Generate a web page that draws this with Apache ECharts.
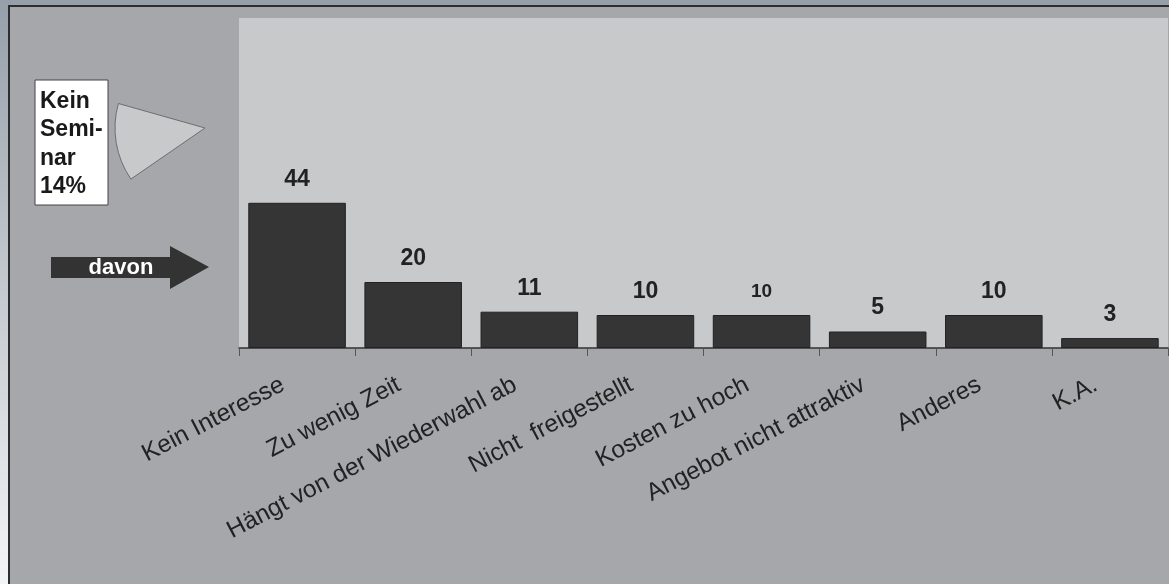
<!DOCTYPE html>
<html>
<head>
<meta charset="utf-8">
<script src="https://cdn.jsdelivr.net/npm/echarts@6/dist/echarts.min.js"></script>
<style>
html,body{margin:0;padding:0;}
#chart{width:1169px;height:584px;}
</style>
</head>
<body>
<div id="chart"></div>
<script>
const categories = ['Kein Interesse', 'Zu wenig Zeit', 'Hängt von der Wiederwahl ab', 'Nicht  freigestellt', 'Kosten zu hoch', 'Angebot nicht attraktiv', 'Anderes', 'K.A.'];
const counts = [44, 20, 11, 10, 10, 5, 10, 3];
const smallLabelIndex = 4;
const pieShares = [14, 86];
const pieNames = ['Kein Seminar', 'Seminar'];
const pieBoxText = 'Kein\nSemi-\nnar\n14%';
const arrowText = 'davon';

const FONT = '"Liberation Sans", Arial, sans-serif';
const chart = echarts.init(document.getElementById('chart'), null, {renderer: 'canvas'});

const barData = counts.map((v, i) => i === smallLabelIndex
  ? {value: v, label: {fontSize: 19, distance: 14}}
  : v);

chart.setOption({
  animation: false,
  backgroundColor: {
    type: 'linear', x: 0, y: 0, x2: 0, y2: 1,
    colorStops: [{offset: 0, color: '#96a0aa'}, {offset: 1, color: '#f3f4f6'}]
  },
  graphic: [
    {type: 'rect', z: -10, shape: {x: 9, y: 6, width: 1170, height: 590},
     style: {fill: '#a6a7ab', stroke: '#2e2e2e', lineWidth: 2}},
    {type: 'rect', z: 10, shape: {x: 35, y: 80, width: 73, height: 125},
     style: {fill: '#ffffff', stroke: '#444', lineWidth: 1}},
    {type: 'text', z: 11, left: 40, top: 87,
     style: {text: pieBoxText, font: 'bold 23px ' + FONT, fill: '#1a1a1a', lineHeight: 28.5}},
    {type: 'polygon', z: 10,
     shape: {points: [[51, 257], [170, 257], [170, 246], [209, 267], [170, 289], [170, 278], [51, 278]]},
     style: {fill: '#333333'}},
    {type: 'text', z: 11, x: 121, y: 268,
     style: {text: arrowText, font: 'bold 22px ' + FONT, fill: '#ffffff', align: 'center', verticalAlign: 'middle'}}
  ],
  grid: {left: 239, right: 1, top: 18, bottom: 236, show: true, backgroundColor: '#c8c9cb',
         borderWidth: 0, outerBoundsMode: 'none', containLabel: false},
  xAxis: {
    type: 'category', data: categories,
    axisLine: {show: true, lineStyle: {color: '#333', width: 1.5}},
    axisTick: {show: true, length: 8, lineStyle: {color: '#555'}},
    axisLabel: {rotate: 27.5, interval: 0, margin: 28, padding: [0, 16, 0, 0],
                fontFamily: FONT, fontSize: 24.5, color: '#222'},
    splitLine: {show: false}
  },
  yAxis: {type: 'value', min: 0, max: 100, show: false, splitLine: {show: false}},
  series: [
    {
      type: 'bar', data: barData, barCategoryGap: '16%',
      itemStyle: {color: '#353535', borderColor: '#222', borderWidth: 1},
      label: {show: true, position: 'top', distance: 12, fontFamily: FONT,
              fontWeight: 'bold', fontSize: 23, color: '#222'},
      emphasis: {disabled: true}, silent: true
    },
    {
      type: 'pie', center: [205, 128], radius: 90, startAngle: 214.6, clockwise: true,
      silent: true, label: {show: false}, labelLine: {show: false}, emphasis: {disabled: true},
      data: pieShares.map((v, i) => ({
        name: pieNames[i], value: v,
        itemStyle: i === 0 ? {color: '#c8c9cb', borderColor: '#6e6e6e', borderWidth: 1}
                            : {color: 'transparent', borderWidth: 0}
      }))
    }
  ]
});
</script>
</body>
</html>
